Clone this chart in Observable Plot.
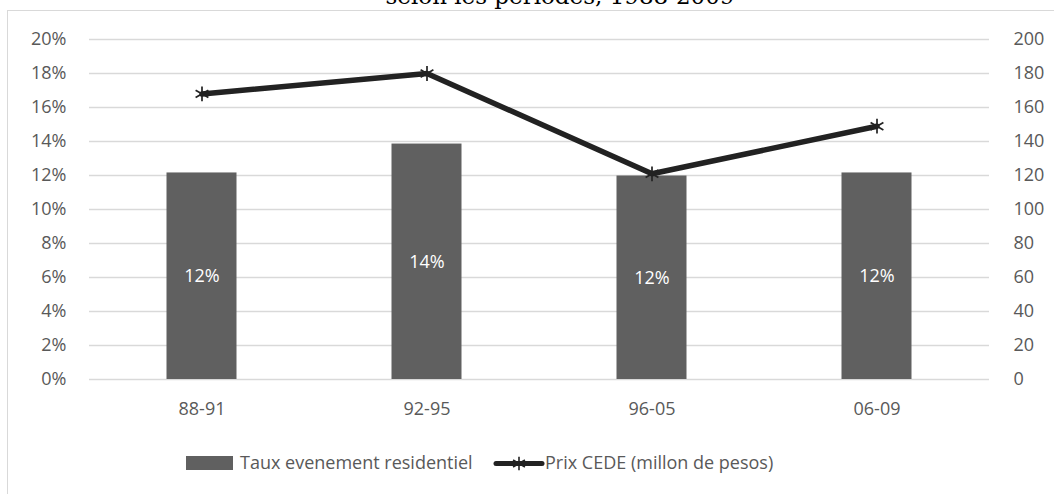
<!DOCTYPE html>
<html>
<head>
<meta charset="utf-8">
<script src="https://cdn.jsdelivr.net/npm/d3@7"></script>
<script src="https://cdn.jsdelivr.net/npm/@observablehq/plot@0.6"></script>
<style>
  html, body { margin: 0; padding: 0; background: #fff; }
  #wrap { position: relative; width: 1054px; height: 494px; overflow: hidden; background: #fff; }
  #frame { position: absolute; left: 7px; top: 10px; width: 1100px; height: 600px; border: 1.5px solid #d9d9d9; box-sizing: border-box; }
  #chart { position: absolute; left: 0; top: 0; }
  #overlay { position: absolute; left: 0; top: 0; }
</style>
</head>
<body>
<div id="wrap">
  <div id="frame"></div>
  <div id="chart"></div>
  <svg id="overlay" width="1054" height="494"></svg>
</div>
<script>
const periods = ["88-91", "92-95", "96-05", "06-09"];
const rates = [12.15, 13.85, 11.97, 12.15];          // Taux evenement residentiel (%)
const prices = [168, 180, 121, 149];                 // Prix CEDE (millon de pesos)
const pctTicks = [0, 2, 4, 6, 8, 10, 12, 14, 16, 18, 20];
const priceTicks = [0, 20, 40, 60, 80, 100, 120, 140, 160, 180, 200];
const titleText = "selon les periodes, 1988-2009";
const legendBar = "Taux evenement residentiel";
const legendLine = "Prix CEDE (millon de pesos)";

const data = periods.map((p, i) => ({period: p, rate: rates[i], price: prices[i]}));
const ratio = 20 / 200; // right axis (price) -> left axis (%)

const font = "'Open Sans', sans-serif";
const chart = Plot.plot({
  width: 1054,
  height: 494,
  marginLeft: 89,
  marginRight: 65,
  marginTop: 39,
  marginBottom: 115,
  style: {fontFamily: font, fontSize: "18px", color: "#595959", background: "transparent"},
  x: {domain: periods, padding: 0, axis: null},
  y: {domain: [0, 20], axis: null},
  marks: [
    Plot.gridY(pctTicks, {stroke: "#d9d9d9", strokeOpacity: 1, strokeWidth: 1.4}),
    Plot.axisY(pctTicks, {anchor: "left", tickSize: 0, tickPadding: 23, tickFormat: d => d + "%", label: null, fill: "#595959"}),
    Plot.axisY(priceTicks.map(v => v * ratio), {anchor: "right", tickSize: 0, tickPadding: 24, tickFormat: d => String(Math.round(d / ratio)), label: null, fill: "#595959"}),
    Plot.axisX(periods, {anchor: "bottom", tickSize: 0, tickPadding: 23, label: null, fill: "#595959"}),
    Plot.barY(data, {x: "period", y: "rate", fill: "#606060", insetLeft: 77.5, insetRight: 77.5}),
    Plot.text(data, {x: "period", y: d => d.rate / 2, text: d => Math.round(d.rate) + "%", fill: "#ffffff", fontSize: 18}),
    Plot.line(data, {x: "period", y: d => d.price * ratio, stroke: "#222222", strokeWidth: 5.5}),
    Plot.dot(data, {x: "period", y: d => d.price * ratio, symbol: "asterisk", r: 7, stroke: "#222222", strokeWidth: 1.7})
  ]
});
document.getElementById("chart").appendChild(chart);

// Title (cut off at top) and legend
const ov = d3.select("#overlay");
ov.append("text")
  .attr("x", 560).attr("y", 4)
  .attr("text-anchor", "middle")
  .attr("font-family", "'DejaVu Serif', serif")
  .attr("font-size", 23)
  .attr("fill", "#000")
  .text(titleText);

ov.append("rect").attr("x", 186).attr("y", 456).attr("width", 47).attr("height", 14).attr("fill", "#606060");
ov.append("text").attr("x", 240).attr("y", 469)
  .attr("font-family", font).attr("font-size", 18).attr("fill", "#595959").text(legendBar);

ov.append("line").attr("x1", 496).attr("x2", 542).attr("y1", 463.5).attr("y2", 463.5)
  .attr("stroke", "#222222").attr("stroke-width", 5).attr("stroke-linecap", "round");
ov.append("path").attr("transform", "translate(519,463.5)")
  .attr("d", d3.symbol(d3.symbolAsterisk, Math.PI * 6.5 * 6.5)())
  .attr("stroke", "#222222").attr("stroke-width", 1.6).attr("fill", "none");
ov.append("text").attr("x", 545).attr("y", 469)
  .attr("font-family", font).attr("font-size", 18).attr("fill", "#595959").text(legendLine);
</script>
</body>
</html>
